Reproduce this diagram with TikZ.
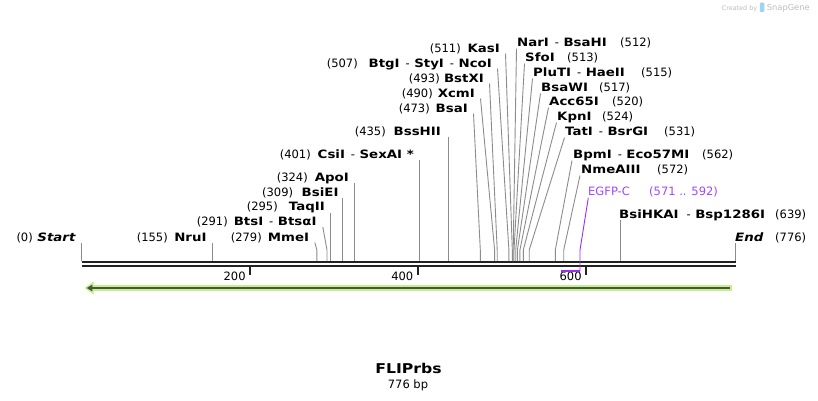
\documentclass[tikz,border=0pt]{standalone}
\usepackage{fontspec}
\setmainfont{DejaVu Sans}[BoldFeatures={FakeStretch=1.16},BoldItalicFeatures={FakeStretch=1.16}]
\definecolor{bbcol}{HTML}{222222}
\definecolor{cutcol}{HTML}{8C8C8C}
\definecolor{featcol}{RGB}{155,45,245}
\definecolor{featlab}{RGB}{165,70,250}
\definecolor{lgreen}{RGB}{196,240,140}
\definecolor{dgreen}{RGB}{74,84,66}
\definecolor{wmgray}{HTML}{BDBDBD}
\definecolor{wmblue}{HTML}{9FD3F2}
\newcommand\sitecut[4]{%
  \coordinate (#1b) at (#2,261);
  \coordinate (#1k) at (#2,250);
  \coordinate (#1t) at (#3,#4);
  \draw[cutline] (#1b) -- (#1k) -- (#1t);}
\tikzset{
  lab/.style={inner sep=0pt, font=\fontsize{11.5}{13}\selectfont},
  enz/.style={inner sep=0pt, font=\fontsize{11.5}{13}\selectfont\bfseries},
  cutline/.style={draw=cutcol, line width=0.9pt},
  bbline/.style={draw=bbcol, line width=2.4pt},
  tickline/.style={draw=bbcol, line width=1.8pt},
  L/.style={anchor=base east},
  R/.style={anchor=base west},
}
\begin{document}
\begin{tikzpicture}[x=1pt,y=-1pt]
\useasboundingbox (0,0) rectangle (818,400);
\fill[white] (0,0) rectangle (818,400);

% watermark
\node[inner sep=0pt, anchor=base east, text=wmgray, font=\fontsize{6.4}{8}\selectfont] (wm1) at (757.3,10) {Created by};
\fill[wmblue, rounded corners=1pt] (759.8,2.5) rectangle (764.3,12);
\node[inner sep=0pt, anchor=base west, text=wmgray, font=\fontsize{8.3}{10}\selectfont] (wm2) at (766.7,10.5) {SnapGene};

% backbone
\coordinate (bbs1) at (81.8,262.2); \coordinate (bbe1) at (735.6,262.2);
\coordinate (bbs2) at (81.8,266.2); \coordinate (bbe2) at (735.6,266.2);
\draw[bbline] (bbs1) -- (bbe1);
\draw[bbline] (bbs2) -- (bbe2);

% ticks
\coordinate (t200a) at (249.8,265); \coordinate (t200b) at (249.8,275);
\coordinate (t400a) at (418.1,265); \coordinate (t400b) at (418.1,275);
\coordinate (t600a) at (585.8,265); \coordinate (t600b) at (585.8,275);
\draw[tickline] (t200a) -- (t200b);
\draw[tickline] (t400a) -- (t400b);
\draw[tickline] (t600a) -- (t600b);
\node[lab,L] (l200) at (245.8,280) {200};
\node[lab,L] (l400) at (413.5,280) {400};
\node[lab,L] (l600) at (581.8,280) {600};

% cut lines
\sitecut{c0}{81.8}{81.8}{242.5}
\sitecut{c155}{212.4}{212.4}{242.5}
\sitecut{c279}{316.9}{314.8}{242.5}
\sitecut{c291}{327.0}{322.8}{227}
\sitecut{c295}{330.3}{330.3}{212.5}
\sitecut{c309}{342.1}{342.1}{197.5}
\sitecut{c324}{354.8}{354.8}{182.7}
\sitecut{c401}{419.6}{419.6}{160}
\sitecut{c435}{448.3}{448.3}{137}
\sitecut{c473}{480.3}{473.5}{113.5}
\sitecut{c490}{494.6}{480.5}{98.5}
\sitecut{c493}{497.2}{489.5}{83.5}
\sitecut{c507}{508.9}{497.5}{68.5}
\sitecut{c511}{512.3}{505.5}{53.5}
\sitecut{c512}{513.2}{516.5}{48.5}
\sitecut{c513}{514.0}{524.5}{63.5}
\sitecut{c515}{515.7}{532.5}{78.5}
\sitecut{c517}{517.4}{540.5}{93.5}
\sitecut{c520}{519.9}{548.5}{107.5}
\sitecut{c524}{523.3}{556.5}{122.5}
\sitecut{c531}{529.2}{564.5}{137.5}
\sitecut{c562}{555.3}{572}{160.5}
\sitecut{c572}{563.7}{580}{175.5}
\sitecut{c639}{620.2}{620.2}{220}
\sitecut{c776}{735.6}{735.6}{242.5}

% left labels
\node[lab,L] (p0) at (33,241) {(0)};
\node[enz,L] (e0) at (76,241) {\textit{Start}};
\node[lab,L] (p155) at (168,241) {(155)};
\node[enz,L] (e155) at (206.7,241) {NruI};
\node[lab,L] (p279) at (262,241) {(279)};
\node[enz,L] (e279) at (309.3,241) {MmeI};
\node[lab,L] (p291) at (228,225) {(291)};
\node[enz,L] (e291) at (316.7,225) {BtsI\hspace{6pt}\mdseries-\hspace{4.5pt}\bfseries BtsαI};
\node[lab,L] (p295) at (278,210.7) {(295)};
\node[enz,L] (e295) at (325,210.7) {TaqII};
\node[lab,L] (p309) at (293.3,196.3) {(309)};
\node[enz,L] (e309) at (338.7,196.3) {BsiEI};
\node[lab,L] (p324) at (308,181.3) {(324)};
\node[enz,L] (e324) at (349,181.3) {ApoI};
\node[lab,L] (p401) at (311,158) {(401)};
\node[enz,L] (e401) at (414,158) {CsiI\hspace{6pt}\mdseries-\hspace{4.5pt}\bfseries SexAI *};
\node[lab,L] (p435) at (386,135) {(435)};
\node[enz,L] (e435) at (441,135) {BssHII};
\node[lab,L] (p473) at (430,112) {(473)};
\node[enz,L] (e473) at (468,112) {BsaI};
\node[lab,L] (p490) at (433,97) {(490)};
\node[enz,L] (e490) at (475,97) {XcmI};
\node[lab,L] (p493) at (440,82) {(493)};
\node[enz,L] (e493) at (484,82) {BstXI};
\node[lab,L] (p507) at (358,67) {(507)};
\node[enz,L] (e507) at (492,67) {BtgI\hspace{6pt}\mdseries-\hspace{4.5pt}\bfseries StyI\hspace{6pt}\mdseries-\hspace{4.5pt}\bfseries NcoI};
\node[lab,L] (p511) at (461,52) {(511)};
\node[enz,L] (e511) at (500,52) {KasI};

% right labels
\node[enz,R] (e512) at (517,46) {NarI\hspace{6pt}\mdseries-\hspace{4.5pt}\bfseries BsaHI};
\node[lab,R] (p512) at (620,46) {(512)};
\node[enz,R] (e513) at (525,61) {SfoI};
\node[lab,R] (p513) at (567,61) {(513)};
\node[enz,R] (e515) at (533,76) {PluTI\hspace{6pt}\mdseries-\hspace{4.5pt}\bfseries HaeII};
\node[lab,R] (p515) at (641,76) {(515)};
\node[enz,R] (e517) at (541,91) {BsaWI};
\node[lab,R] (p517) at (599,91) {(517)};
\node[enz,R] (e520) at (549,105) {Acc65I};
\node[lab,R] (p520) at (612,105) {(520)};
\node[enz,R] (e524) at (557,120) {KpnI};
\node[lab,R] (p524) at (602,120) {(524)};
\node[enz,R] (e531) at (565,135) {TatI\hspace{6pt}\mdseries-\hspace{4.5pt}\bfseries BsrGI};
\node[lab,R] (p531) at (664,135) {(531)};
\node[enz,R] (e562) at (573,158) {BpmI\hspace{6pt}\mdseries-\hspace{4.5pt}\bfseries Eco57MI};
\node[lab,R] (p562) at (702,158) {(562)};
\node[enz,R] (e572) at (581,173) {NmeAIII};
\node[lab,R] (p572) at (657,173) {(572)};
\node[enz,R] (e639) at (619,218) {BsiHKAI\hspace{8pt}\mdseries-\hspace{4.5pt}\bfseries Bsp1286I};
\node[lab,R] (p639) at (775,218) {(639)};
\node[enz,R] (e776) at (735,241) {\textit{End}};
\node[lab,R] (p776) at (775,241) {(776)};

% feature EGFP-C
\node[lab,R,text=featlab] (fname) at (588,195.7) {EGFP-C};
\node[lab,R,text=featlab] (fpos) at (649,195.7) {(571 .. 592)};
\coordinate (fa) at (561,270.8); \coordinate (fb) at (580,270.8);
\coordinate (fk) at (580,250); \coordinate (ft) at (588.3,197.8);
\draw[featcol, line width=0.9pt] (fb) -- (fk) -- (ft);
\draw[featcol, line width=2.2pt] (fa) -- (fb);

% green arrow
\coordinate (ga) at (90,288); \coordinate (gb) at (731.5,288);
\coordinate (gtip) at (84.5,288);
\draw[lgreen, line width=5.6pt] (ga) -- (gb);
\fill[lgreen] (gtip) -- (93.5,281.5) -- (93.5,294.5) -- cycle;
\coordinate (da) at (90,288); \coordinate (db) at (729.5,288);
\draw[dgreen, line width=2.2pt] (da) -- (db);
\fill[dgreen] (86.8,288) -- (92.3,284.6) -- (92.3,291.4) -- cycle;

% title
\node[inner sep=0pt, anchor=base, font=\fontsize{13.5}{15}\selectfont\bfseries] (title) at (408.6,373.3) {FLIPrbs};
\node[lab, anchor=base] (len) at (408,388.3) {776 bp};
\end{tikzpicture}
\end{document}
